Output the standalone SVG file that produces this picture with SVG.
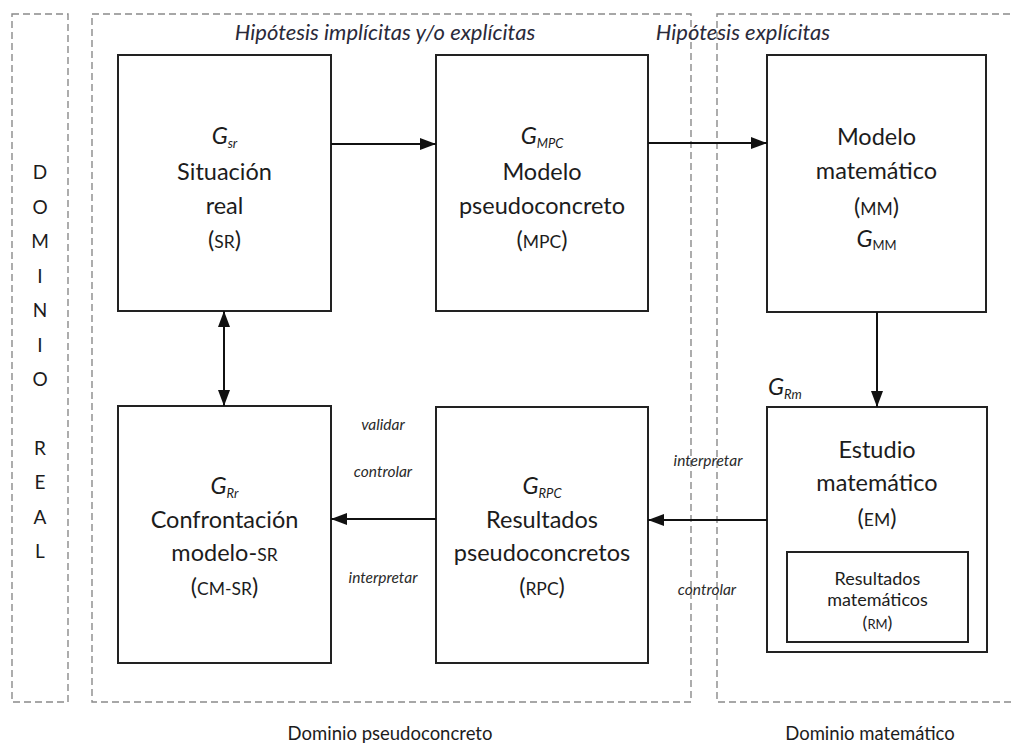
<svg xmlns="http://www.w3.org/2000/svg" width="1013" height="743" viewBox="0 0 1013 743">
<style>
.dash{fill:none;stroke:#8a8a8a;stroke-width:1.4;stroke-dasharray:7,4}
.box{fill:#fff;stroke:#222;stroke-width:2}
.t{font-family:Lato,"Open Sans",sans-serif;font-size:23.5px;fill:#1c1c1c;text-anchor:middle}
.sc{font-size:17.5px}
.gi{font-style:italic}
.sub{font-style:italic;font-size:13px}
.subu{font-size:13px}
.hdr{font-family:Lato,"Open Sans",sans-serif;font-style:italic;font-size:22px;fill:#2a2a3a;text-anchor:middle}
.lbl{font-family:Lato,"Open Sans",sans-serif;font-style:italic;font-size:15.5px;fill:#2a2a2a;text-anchor:middle}
.dom{font-family:Lato,"Open Sans",sans-serif;font-size:18.5px;fill:#1c1c1c;text-anchor:middle}
.vert{font-family:Lato,"Open Sans",sans-serif;font-size:19px;fill:#1c1c1c;text-anchor:middle}
.rm{font-family:Lato,"Open Sans",sans-serif;font-size:18px;fill:#1c1c1c;text-anchor:middle}
.rmsc{font-size:13px}
.conn{stroke:#111;stroke-width:2;fill:none}
</style>
<defs>
<marker id="ah" viewBox="0 0 16 12" refX="16" refY="6" markerWidth="16" markerHeight="12" markerUnits="userSpaceOnUse" orient="auto-start-reverse">
<path d="M0,0 L16,6 L0,12 z" fill="#111"/>
</marker>
</defs>

<g id="domains">
<rect class="dash" x="12" y="14" width="56" height="688"/>
<rect class="dash" x="92" y="14" width="599" height="688"/>
<rect class="dash" x="717" y="14" width="320" height="688"/>
</g>

<g id="dominio-real">
<text class="vert" x="40" y="179">D</text>
<text class="vert" x="40" y="214">O</text>
<text class="vert" x="40" y="248">M</text>
<text class="vert" x="40" y="283">I</text>
<text class="vert" x="40" y="317">N</text>
<text class="vert" x="40" y="352">I</text>
<text class="vert" x="40" y="386">O</text>
<text class="vert" x="40" y="455">R</text>
<text class="vert" x="40" y="489">E</text>
<text class="vert" x="40" y="524">A</text>
<text class="vert" x="40" y="558">L</text>
</g>

<g id="headers">
<text class="hdr" x="385" y="40">Hipótesis implícitas y/o explícitas</text>
<text class="hdr" x="743" y="40">Hipótesis explícitas</text>
<text class="dom" x="390" y="740">Dominio pseudoconcreto</text>
<text class="dom" x="870" y="740">Dominio matemático</text>
</g>

<g id="node-SR">
<rect class="box" x="118" y="55" width="213" height="256"/>
<text class="t" x="224.5" y="144"><tspan class="gi">G</tspan><tspan class="sub" dy="4">sr</tspan></text>
<text class="t" x="224.5" y="180">Situación</text>
<text class="t" x="224.5" y="214">real</text>
<text class="t" x="224.5" y="248">(<tspan class="sc">SR</tspan>)</text>
</g>

<g id="node-MPC">
<rect class="box" x="436" y="55" width="212" height="256"/>
<text class="t" x="542" y="144"><tspan class="gi">G</tspan><tspan class="sub" dy="4">MPC</tspan></text>
<text class="t" x="542" y="180">Modelo</text>
<text class="t" x="542" y="214">pseudoconcreto</text>
<text class="t" x="542" y="248">(<tspan class="sc">MPC</tspan>)</text>
</g>

<g id="node-MM">
<rect class="box" x="767" y="55" width="219" height="257"/>
<text class="t" x="876.5" y="145">Modelo</text>
<text class="t" x="876.5" y="179">matemático</text>
<text class="t" x="876.5" y="215">(<tspan class="sc">MM</tspan>)</text>
<text class="t" x="876.5" y="247"><tspan class="gi">G</tspan><tspan class="subu" dy="3">MM</tspan></text>
</g>

<g id="node-CM">
<rect class="box" x="118" y="406" width="213" height="257"/>
<text class="t" x="224.5" y="494"><tspan class="gi">G</tspan><tspan class="sub" dy="4">Rr</tspan></text>
<text class="t" x="224.5" y="528">Confrontación</text>
<text class="t" x="224.5" y="561">modelo-<tspan class="sc">SR</tspan></text>
<text class="t" x="224.5" y="595">(<tspan class="sc">CM-SR</tspan>)</text>
</g>

<g id="node-RPC">
<rect class="box" x="436" y="407" width="212" height="256"/>
<text class="t" x="542" y="494"><tspan class="gi">G</tspan><tspan class="sub" dy="4">RPC</tspan></text>
<text class="t" x="542" y="528">Resultados</text>
<text class="t" x="542" y="561">pseudoconcretos</text>
<text class="t" x="542" y="595">(<tspan class="sc">RPC</tspan>)</text>
</g>

<g id="node-EM">
<rect class="box" x="767" y="407" width="220" height="245"/>
<text class="t" x="768" y="395" style="text-anchor:start"><tspan class="gi">G</tspan><tspan class="sub" dy="4">Rm</tspan></text>
<text class="t" x="877" y="458">Estudio</text>
<text class="t" x="877" y="491">matemático</text>
<text class="t" x="877" y="526">(<tspan class="sc">EM</tspan>)</text>
</g>

<g id="node-RM">
<rect class="box" x="787" y="552" width="181" height="90"/>
<text class="rm" x="877.5" y="585">Resultados</text>
<text class="rm" x="877.5" y="606">matemáticos</text>
<text class="rm" x="877.5" y="629">(<tspan class="rmsc">RM</tspan>)</text>
</g>

<g id="connectors">
<line class="conn" x1="331" y1="144" x2="436" y2="144" marker-end="url(#ah)"/>
<line class="conn" x1="648" y1="143" x2="767" y2="143" marker-end="url(#ah)"/>
<line class="conn" x1="877" y1="312" x2="877" y2="407" marker-end="url(#ah)"/>
<line class="conn" x1="767" y1="520" x2="648" y2="520" marker-end="url(#ah)"/>
<line class="conn" x1="436" y1="519" x2="331" y2="519" marker-end="url(#ah)"/>
<line class="conn" x1="224" y1="311" x2="224" y2="406" marker-start="url(#ah)" marker-end="url(#ah)"/>
</g>

<g id="connector-labels">
<text class="lbl" x="383" y="430">validar</text>
<text class="lbl" x="383" y="477">controlar</text>
<text class="lbl" x="383" y="583">interpretar</text>
<text class="lbl" x="708" y="466">interpretar</text>
<text class="lbl" x="707" y="595">controlar</text>
</g>
</svg>
